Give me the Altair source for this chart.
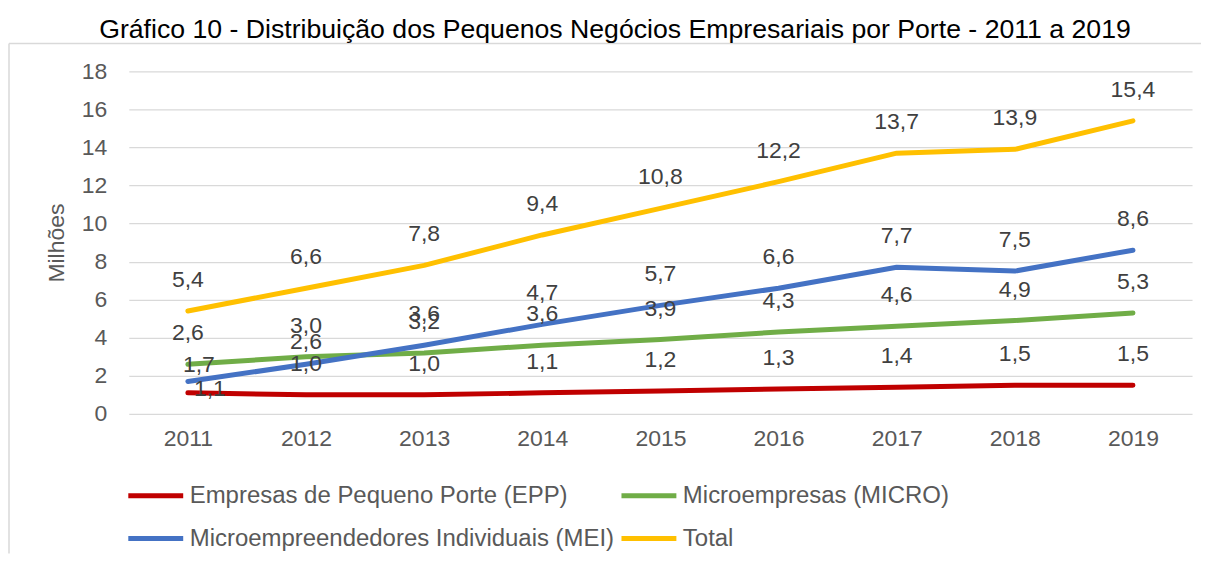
import altair as alt
import pandas as pd

years = ["2011", "2012", "2013", "2014", "2015", "2016", "2017", "2018", "2019"]
series_names = [
    "Empresas de Pequeno Porte (EPP)",
    "Microempresas (MICRO)",
    "Microempreendedores Individuais (MEI)",
    "Total",
]
epp = [1.1, 1.0, 1.0, 1.1, 1.2, 1.3, 1.4, 1.5, 1.5]
micro = [2.6, 3.0, 3.2, 3.6, 3.9, 4.3, 4.6, 4.9, 5.3]
mei = [1.7, 2.6, 3.6, 4.7, 5.7, 6.6, 7.7, 7.5, 8.6]
total = [5.4, 6.6, 7.8, 9.4, 10.8, 12.2, 13.7, 13.9, 15.4]
colors = ["#C00000", "#70AD47", "#4472C4", "#FFC000"]
y_ticks = [0, 2, 4, 6, 8, 10, 12, 14, 16, 18]
# legend fills column by column: this order gives rows EPP|MICRO and MEI|Total
legend_order = [series_names[0], series_names[2], series_names[1], series_names[3]]

rows = []
for name, vals in zip(series_names, [epp, micro, mei, total]):
    for yr, v in zip(years, vals):
        rows.append({"ano": yr, "serie": name, "valor": v,
                     "rotulo": f"{v:.1f}".replace(".", ",")})
df = pd.DataFrame(rows)

FONT = "Liberation Sans"
W, H = 1065, 343

x_enc = alt.X("ano:O", scale=alt.Scale(type="point", padding=0.5), sort=years,
              axis=alt.Axis(title=None, labelAngle=0, ticks=False, tickSize=0, domain=False,
                            labelFontSize=23, labelFont=FONT, labelColor="#595959",
                            labelPadding=14, grid=False, labelOverlap=False))
y_enc = alt.Y("valor:Q", scale=alt.Scale(domain=[0, 18], nice=False),
              axis=alt.Axis(title="Milhões", values=y_ticks, ticks=False, tickSize=0,
                            domain=False, grid=True, gridColor="#d9d9d9", gridWidth=1.3,
                            labelOverlap=False, labelFontSize=23, labelFont=FONT,
                            labelColor="#595959",
                            labelPadding=22, titleFont=FONT, titleFontSize=23,
                            titleFontWeight="normal", titleColor="#595959",
                            titleX=-72, titleY=H / 2, titleBaseline="middle", titleAngle=-90))
color_enc = alt.Color("serie:N", scale=alt.Scale(domain=series_names, range=colors),
                      legend=alt.Legend(title=None, orient="none", legendX=-3, legendY=395,
                                        values=legend_order,
                                        columns=2, symbolType="stroke", symbolSize=3025,
                                        symbolStrokeWidth=5, labelFontSize=24, labelFont=FONT,
                                        labelColor="#595959", labelOffset=4, columnPadding=-4,
                                        rowPadding=1, labelLimit=700))

base = alt.Chart(df)
lines = base.mark_line(strokeWidth=5, strokeCap="round", strokeJoin="round").encode(
    x=x_enc, y=y_enc, color=color_enc, order=alt.Order("ano:O"))

special = {("2011", "Microempreendedores Individuais (MEI)"): (11, -16),
           ("2011", "Empresas de Pequeno Porte (EPP)"): (22, -4),
           ("2012", "Microempreendedores Individuais (MEI)"): (0, -22)}

txt_kw = dict(font=FONT, fontSize=23, color="#404040", align="center", baseline="middle")
cond_normal = " && ".join(
    [f"!(datum.ano == '{a}' && datum.serie == '{s}')" for (a, s) in special])
labels = [base.mark_text(dy=-31, **txt_kw).encode(x=x_enc, y=y_enc, text="rotulo:N")
          .transform_filter(cond_normal)]
for (a, s), (dx, dy) in special.items():
    labels.append(base.mark_text(dx=dx, dy=dy, **txt_kw).encode(
        x=x_enc, y=y_enc, text="rotulo:N").transform_filter(
        f"datum.ano == '{a}' && datum.serie == '{s}'"))

border_v = alt.Chart(pd.DataFrame({"a": [0]})).mark_rule(color="#d9d9d9", strokeWidth=1.5).encode(
    x=alt.value(-120), y=alt.value(-28), y2=alt.value(483))
border_h = alt.Chart(pd.DataFrame({"a": [0]})).mark_rule(color="#d9d9d9", strokeWidth=1.5).encode(
    x=alt.value(-120), x2=alt.value(1074), y=alt.value(-28))

chart = alt.layer(lines, *labels, border_v, border_h).properties(
    width=W, height=H,
    title=alt.TitleParams("Gráfico 10 - Distribuição dos Pequenos Negócios Empresariais por Porte - 2011 a 2019",
                          font=FONT, fontSize=26.7, fontWeight="normal", color="#000000",
                          anchor="middle", frame="bounds", offset=0, dy=1, dx=10),
    padding={"left": 0, "top": 8, "right": 0, "bottom": 0},
).configure_view(stroke=None)

chart.save("out.html", embed_options={"renderer": "svg", "actions": False})
